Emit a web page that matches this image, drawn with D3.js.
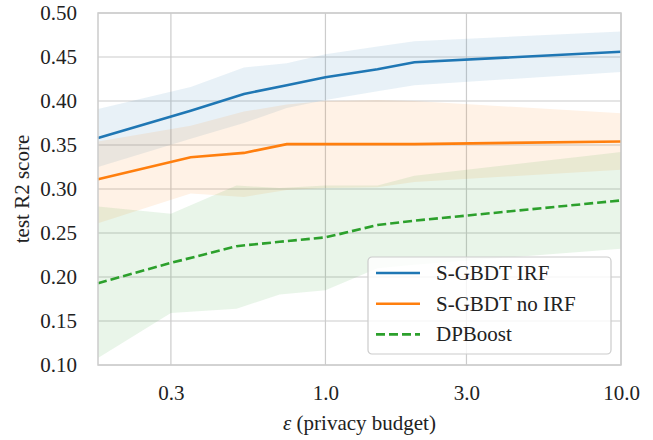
<!DOCTYPE html>
<html>
<head>
<meta charset="utf-8">
<script src="https://cdn.jsdelivr.net/npm/d3@7"></script>
<style>
  body { margin: 0; background: #fff; }
</style>
</head>
<body>
<div id="chart"></div>
<script>
// ---- data ----
const epsSGBDT = [0.17, 0.35, 0.53, 0.74, 1.0, 1.5, 2.0, 10];
const irfMean = [0.358, 0.389, 0.408, 0.418, 0.427, 0.436, 0.444, 0.456];
const irfLow = [0.325, 0.357, 0.375, 0.392, 0.401, 0.411, 0.418, 0.433];
const irfHigh = [0.391, 0.416, 0.438, 0.443, 0.453, 0.462, 0.468, 0.479];
const noIrfMean = [0.311, 0.336, 0.341, 0.351, 0.351, 0.351, 0.351, 0.354];
const noIrfLow = [0.261, 0.295, 0.291, 0.299, 0.301, 0.302, 0.308, 0.322];
const noIrfHigh = [0.354, 0.372, 0.388, 0.396, 0.400, 0.401, 0.400, 0.386];

const epsDPBoost = [0.17, 0.3, 0.5, 0.7, 1.0, 1.5, 2.0, 10];
const dpMean = [0.193, 0.216, 0.235, 0.240, 0.245, 0.259, 0.264, 0.287];
const dpLow = [0.108, 0.159, 0.164, 0.180, 0.185, 0.210, 0.214, 0.232];
const dpHigh = [0.280, 0.272, 0.304, 0.301, 0.304, 0.304, 0.315, 0.342];

const xTicks = [0.3, 1.0, 3.0, 10.0];
const yTicks = [0.10, 0.15, 0.20, 0.25, 0.30, 0.35, 0.40, 0.45, 0.50];
const seriesNames = ["S-GBDT IRF", "S-GBDT no IRF", "DPBoost"];

// ---- layout ----
const width = 653, height = 440;
const margin = {top: 13, right: 32, bottom: 75, left: 98};
const innerW = width - margin.left - margin.right;
const innerH = height - margin.top - margin.bottom;
const fontSize = 21;
const serif = "'Liberation Serif', 'Times New Roman', 'DejaVu Serif', serif";

const svg = d3.select("#chart").append("svg")
  .attr("width", width)
  .attr("height", height)
  .attr("font-family", serif);

const g = svg.append("g")
  .attr("transform", "translate(" + margin.left + "," + margin.top + ")");

const x = d3.scaleLog().domain([0.17, 10]).range([0, innerW]);
const y = d3.scaleLinear().domain([0.10, 0.50]).range([innerH, 0]);

// grid
g.append("g").selectAll("line").data(xTicks).enter().append("line")
  .attr("x1", d => x(d)).attr("x2", d => x(d))
  .attr("y1", 0).attr("y2", innerH)
  .attr("stroke", "#cccccc").attr("stroke-width", 1.2);
g.append("g").selectAll("line").data(yTicks).enter().append("line")
  .attr("x1", 0).attr("x2", innerW)
  .attr("y1", d => y(d)).attr("y2", d => y(d))
  .attr("stroke", "#cccccc").attr("stroke-width", 1.2);

// series
const series = [
  {name: seriesNames[0], eps: epsSGBDT, mean: irfMean, lo: irfLow, hi: irfHigh, color: "#1f77b4", dash: null},
  {name: seriesNames[1], eps: epsSGBDT, mean: noIrfMean, lo: noIrfLow, hi: noIrfHigh, color: "#ff7f0e", dash: null},
  {name: seriesNames[2], eps: epsDPBoost, mean: dpMean, lo: dpLow, hi: dpHigh, color: "#2ca02c", dash: "9,4"}
];

const area = d3.area()
  .x(d => x(d.e))
  .y0(d => y(d.lo))
  .y1(d => y(d.hi));

const line = d3.line()
  .x(d => x(d.e))
  .y(d => y(d.m));

series.forEach(function (s) {
  const pts = s.eps.map((e, i) => ({e: e, m: s.mean[i], lo: s.lo[i], hi: s.hi[i]}));
  s.pts = pts;
  g.append("path")
    .attr("d", area(pts))
    .attr("fill", s.color)
    .attr("fill-opacity", 0.1);
});

series.forEach(function (s) {
  g.append("path")
    .attr("d", line(s.pts))
    .attr("fill", "none")
    .attr("stroke", s.color)
    .attr("stroke-width", 2.6)
    .attr("stroke-dasharray", s.dash);
});

// frame
g.append("rect")
  .attr("width", innerW).attr("height", innerH)
  .attr("fill", "none")
  .attr("stroke", "#cccccc").attr("stroke-width", 1.5);

// axes (labels only, no tick marks)
const xAxis = d3.axisBottom(x)
  .tickValues(xTicks)
  .tickFormat(d3.format(".1f"))
  .tickSize(0).tickPadding(20);
const gx = g.append("g")
  .attr("transform", "translate(0," + innerH + ")")
  .call(xAxis)
  .attr("font-family", serif)
  .attr("font-size", fontSize);
gx.select(".domain").remove();
gx.selectAll("text").attr("fill", "#222");

const yAxis = d3.axisLeft(y)
  .tickValues(yTicks)
  .tickFormat(d3.format(".2f"))
  .tickSize(0).tickPadding(21);
const gy = g.append("g").call(yAxis)
  .attr("font-family", serif)
  .attr("font-size", fontSize);
gy.select(".domain").remove();
gy.selectAll("text").attr("fill", "#222");

// axis titles
svg.append("text")
  .attr("x", margin.left + innerW / 2)
  .attr("y", 430)
  .attr("text-anchor", "middle")
  .attr("font-size", fontSize)
  .attr("fill", "#222")
  .html('<tspan font-style="italic">ε</tspan> (privacy budget)');

svg.append("text")
  .attr("transform", "translate(29," + (margin.top + innerH / 2) + ") rotate(-90)")
  .attr("text-anchor", "middle")
  .attr("font-size", fontSize)
  .attr("fill", "#222")
  .text("test R2 score");

// legend
const legend = g.append("g")
  .attr("transform", "translate(" + (368 - margin.left) + "," + (257 - margin.top) + ")");
legend.append("rect")
  .attr("width", 243).attr("height", 97)
  .attr("rx", 4).attr("ry", 4)
  .attr("fill", "#ffffff").attr("fill-opacity", 0.8)
  .attr("stroke", "#cccccc").attr("stroke-width", 1.2);

const rows = legend.selectAll("g.row").data(series).enter().append("g")
  .attr("class", "row")
  .attr("transform", (d, i) => "translate(0," + (16 + i * 30.7) + ")");
rows.append("line")
  .attr("x1", 8).attr("x2", 52)
  .attr("y1", 0).attr("y2", 0)
  .attr("stroke", d => d.color)
  .attr("stroke-width", 2.6)
  .attr("stroke-dasharray", d => d.dash);
rows.append("text")
  .attr("x", 68).attr("y", 7)
  .attr("font-size", fontSize)
  .attr("fill", "#222")
  .text(d => d.name);
</script>
</body>
</html>
